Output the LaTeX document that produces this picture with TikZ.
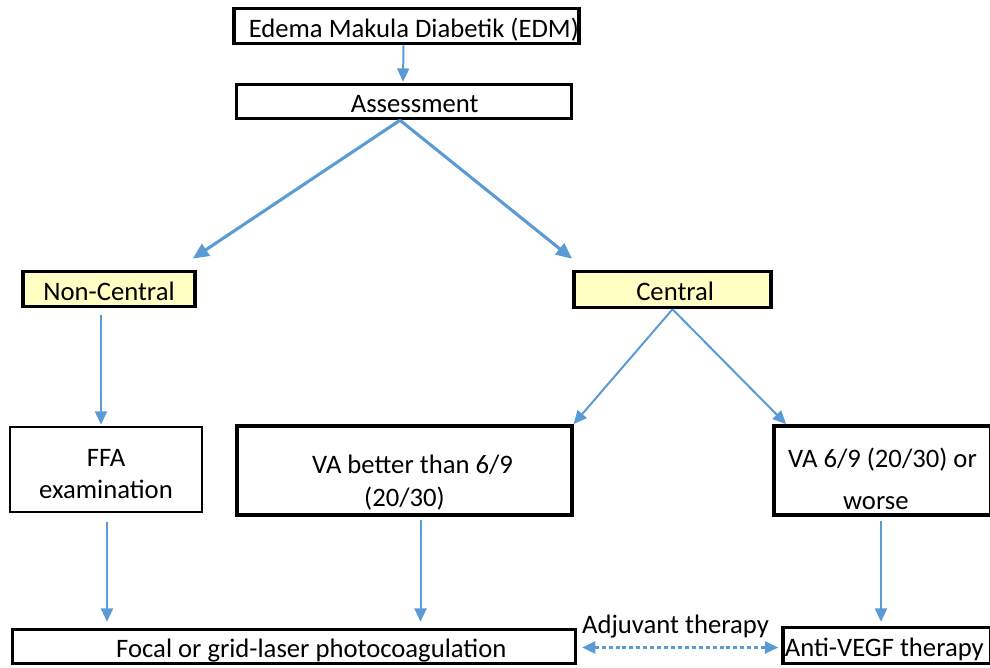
\documentclass[tikz,border=0pt]{standalone}
\usepackage{fontspec}
\setmainfont{Carlito}
\usetikzlibrary{arrows.meta,calc}

\definecolor{flowblue}{RGB}{91,155,213}
\definecolor{paleyellow}{RGB}{255,255,196}

\tikzset{
  box/.style={draw=black, line width=2.6pt, inner sep=0pt, align=center, font=\fontsize{20}{24}\selectfont},
  oneline/.style={box, text height=17pt, text depth=0pt},
  thinbox/.style={box, line width=1.8pt},
  choice/.style={oneline, fill=paleyellow},
  flow/.style={draw=flowblue, line width=1.5pt, -{Triangle[length=10pt,width=9pt]}},
  bigflow/.style={draw=flowblue, line width=2.3pt, -{Triangle[length=12pt,width=10.5pt]}},
  adjflow/.style={draw=flowblue, line width=2pt, dash pattern=on 3pt off 2.2pt, {Triangle[length=10pt,width=9pt]}-{Triangle[length=10pt,width=9pt]}},
}

\begin{document}
\begin{tikzpicture}[x=0.75pt,y=0.75pt,yscale=-1,xscale=1]
\useasboundingbox (0,0) rectangle (990,668);

% top of the chart
\node[oneline, minimum width=254pt, minimum height=26.5pt] (edm) at (406.5,26) {\hspace*{11pt}Edema Makula Diabetik (EDM)};
\node[oneline, minimum width=251pt, minimum height=25.5pt] (assess) at (404,101.5) {\hspace*{16pt}Assessment};

% location of the oedema
\node[choice, minimum width=129pt, minimum height=26.5pt] (noncentral) at (109,289) {Non-Central};
\node[choice, minimum width=148pt, minimum height=27pt] (central) at (672.5,289.5) {\hspace*{4pt}Central};

% middle row
\node[thinbox, minimum width=144pt, minimum height=64pt] (ffa) at (106,469.5) {\rule{0pt}{20pt}FFA\\ examination};
\node[box, minimum width=251pt, minimum height=67pt] (vabetter) at (404.5,470.5) {\rule{0pt}{32pt}\hspace*{12pt}VA better than 6/9\\[1pt] (20/30)};
\node[box, minimum width=163pt, minimum height=67pt] (worse) at (882.5,470.5) {\rule{0pt}{27pt}VA 6/9 (20/30) or\\[7pt] worse\hspace*{10pt}};

% treatments
\node[oneline, minimum width=422pt, minimum height=25.5pt] (focal) at (294,646.5) {\hspace*{26pt}Focal or grid-laser photocoagulation};
\node[oneline, minimum width=156pt, minimum height=27pt] (anti) at (887,645.5) {\hspace*{-4pt}Anti-VEGF therapy};

% connectors
\draw[flow] ($(edm.south)+(-3,0)$) -- ($(assess.north)+(-1,-1)$);
\draw[bigflow] ($(assess.south)+(-4,0)$) -- ($(noncentral.north east)+(-4,-11)$);
\draw[bigflow] ($(assess.south)+(-4,0)$) -- ($(central.north west)+(0,-11)$);
\draw[flow] ($(noncentral.south)+(-8,7)$) -- ($(ffa.north)+(-5,-1)$);
\draw[flow] (central.south) -- (vabetter.north east);
\draw[flow] (central.south) -- ($(worse.north west)+(14,0)$);
\draw[flow] ($(ffa.south)+(1,9)$) -- ($(ffa.south |- focal.north)+(1,-6)$);
\draw[flow] ($(vabetter.south)+(16,3)$) -- ($(vabetter.south |- focal.north)+(16,-6)$);
\draw[flow] ($(worse.south)+(-1.5,4)$) -- ($(worse.south |- anti.north)+(-1.5,-4)$);
\draw[adjflow] ($(focal.east)+(5,1)$) -- ($(anti.west)+(-3,2)$)
  node[midway, above=6pt, xshift=-3.5pt, inner sep=0pt, font=\fontsize{20}{24}\selectfont] (adj) {Adjuvant therapy};

\end{tikzpicture}
\end{document}
